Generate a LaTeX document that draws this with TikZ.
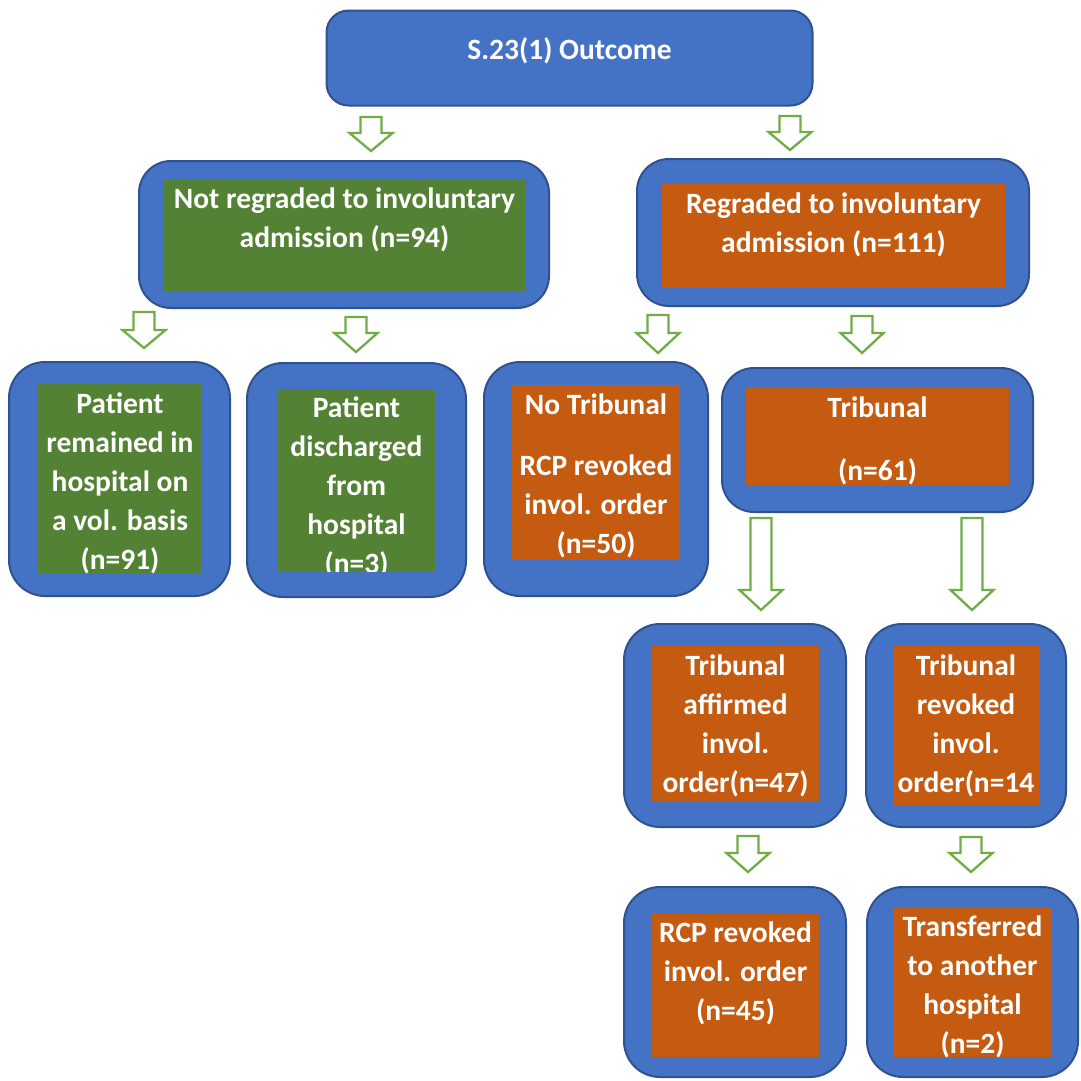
\documentclass[tikz,border=0pt]{standalone}
\usepackage{fontspec}
\setmainfont{Carlito}
\definecolor{boxblue}{HTML}{4472C4}
\definecolor{bordc}{HTML}{2F528F}
\definecolor{leafgreen}{HTML}{548235}
\definecolor{rust}{HTML}{C55A11}
\definecolor{arrgreen}{HTML}{70AD47}
\tikzset{
  outerbox/.style={draw=bordc, fill=boxblue, line width=2pt, rounded corners=#1, inner sep=0pt},
  outerbox/.default=32pt,
  greenbox/.style={fill=leafgreen, inner sep=0pt, draw=none},
  rustbox/.style={fill=rust, inner sep=0pt, draw=none},
  label/.style={text=white, font=\fontsize{29.5}{39}\selectfont\bfseries, align=center, inner sep=0pt},
  blkarrow/.style={draw=arrgreen, fill=white, line width=2.3pt, line join=miter}
}
\newcommand{\blk}[3]{\draw[blkarrow] (#1) ++(-10.5,0) -- ++(21,0) -- ++(0,#2) -- ++(11,0) -- ++(-21.5,#3) -- ++(-21.5,-#3) -- ++(11,0) -- cycle;}
\newcommand{\cliptext}[4]{\begin{scope}\clip (#1.south west) rectangle (#1.north east);\node[label] (#2) at (#3) {#4};\end{scope}}
\begin{document}
\begin{tikzpicture}[x=1pt,y=-1pt]
\useasboundingbox[fill=white] (0,0) rectangle (1081,1080);

% top box
\node[outerbox=22pt, minimum width=486pt, minimum height=95pt] (top) at (569.5,58) {};
\node[label] (toptxt) at (569.5,51) {S.23(1) Outcome};

% second level
\node[outerbox, minimum width=410pt, minimum height=147pt] (lg) at (344,234.5) {};
\node[greenbox, minimum width=363pt, minimum height=111pt] (lgi) at (344.5,235.5) {};
\cliptext{lgi}{lgt}{344.5,220}{Not regraded to involuntary\\admission (n=94)}

\node[outerbox, minimum width=392pt, minimum height=147pt] (rg) at (833,232.5) {};
\node[rustbox, minimum width=343pt, minimum height=104pt] (rgi) at (833.5,235) {};
\cliptext{rgi}{rgt}{833.5,224.5}{Regraded to involuntary\\admission (n=111)}

% third level
\node[outerbox=36pt, minimum width=221pt, minimum height=234pt] (ba) at (119.5,479) {};
\node[greenbox, minimum width=164pt, minimum height=189pt] (bai) at (120,478.5) {};
\cliptext{bai}{bat}{120,483.5}{Patient\\remained in\\hospital on\\a vol. basis\\(n=91)}

\node[outerbox=36pt, minimum width=219pt, minimum height=234pt] (bb) at (356.5,480) {};
\node[greenbox, minimum width=157pt, minimum height=182pt] (bbi) at (356.5,480) {};
\cliptext{bbi}{bbt}{356.5,487}{Patient\\discharged\\from\\hospital\\(n=3)}

\node[outerbox=36pt, minimum width=224pt, minimum height=234pt] (bc) at (596,479) {};
\node[rustbox, minimum width=168pt, minimum height=175pt] (bci) at (596,472.5) {};
\cliptext{bci}{bct}{596,476}{No Tribunal\\[22pt]RCP revoked\\invol. order\\(n=50)}

\node[outerbox, minimum width=311pt, minimum height=144pt] (bd) at (877.5,440) {};
\node[rustbox, minimum width=263pt, minimum height=99pt] (bdi) at (877.5,436.5) {};
\cliptext{bdi}{bdt}{877.5,440.5}{Tribunal\\[24pt](n=61)}

% fourth level
\node[outerbox=36pt, minimum width=222pt, minimum height=203pt] (be) at (735,725.5) {};
\node[rustbox, minimum width=167pt, minimum height=156pt] (bei) at (735.5,724) {};
\cliptext{bei}{bet}{735.5,725.5}{Tribunal\\affirmed\\invol.\\order(n=47)}

\node[outerbox=36pt, minimum width=200pt, minimum height=203pt] (bf) at (966,725.5) {};
\node[rustbox, minimum width=146pt, minimum height=160pt] (bfi) at (966,726) {};
\cliptext{bfi}{bft}{966,725.5}{Tribunal\\revoked\\invol.\\order(n=14}

% fifth level
\node[outerbox=36pt, minimum width=222pt, minimum height=190pt] (bg) at (735,982) {};
\node[rustbox, minimum width=167pt, minimum height=143pt] (bgi) at (735.5,985.5) {};
\cliptext{bgi}{bgt}{735.5,973.5}{RCP revoked\\invol. order\\(n=45)}

\node[outerbox=36pt, minimum width=211pt, minimum height=190pt] (bh) at (972.5,982) {};
\node[rustbox, minimum width=159pt, minimum height=149pt] (bhi) at (972.5,982.5) {};
\cliptext{bhi}{bht}{972.5,987}{Transferred\\to another\\hospital\\(n=2)}

% block arrows
\coordinate (a1) at (371,117);
\coordinate (a2) at (790,116);
\coordinate (a3) at (144,312);
\coordinate (a4) at (356,317);
\coordinate (a5) at (658,315);
\coordinate (a6) at (862,316);
\coordinate (a7) at (761,518);
\coordinate (a8) at (972,518);
\coordinate (a9) at (748,836);
\coordinate (a10) at (971,837);
\blk{a1}{16}{18}
\blk{a2}{16}{18}
\blk{a3}{18}{18}
\blk{a4}{16}{19}
\blk{a5}{18}{20}
\blk{a6}{17}{20}
\blk{a7}{72}{20}
\blk{a8}{72}{20}
\blk{a9}{17}{19}
\blk{a10}{16}{19}
\end{tikzpicture}
\end{document}
